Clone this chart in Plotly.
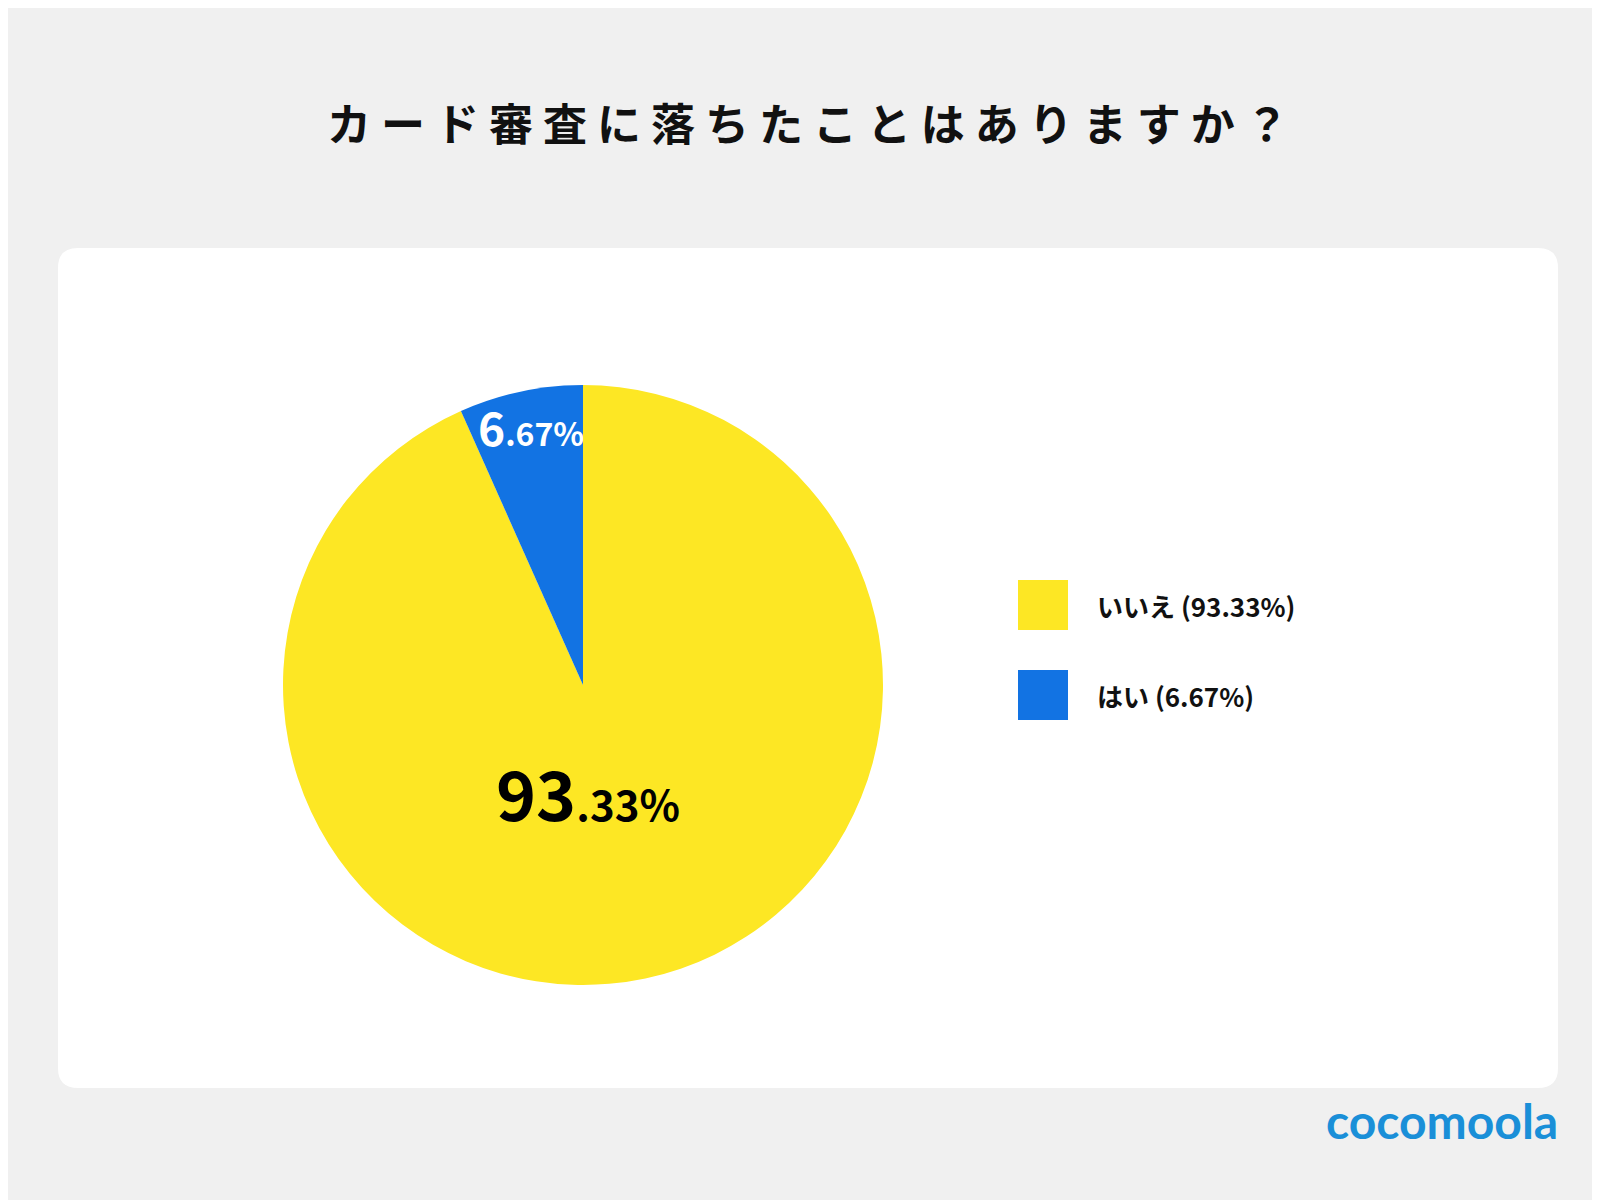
import plotly.graph_objects as go

labels = ["いいえ", "はい"]
values = [93.33, 6.67]
colors = ["#fde724", "#1273e3"]
big = ["93", "6"]
small = [".33%", ".67%"]

W, H = 1600, 1200
font = "Noto Sans CJK JP"

fig = go.Figure(go.Pie(
    labels=labels, values=values, sort=False, direction="clockwise",
    marker=dict(colors=colors, line=dict(width=0)), textinfo="none",
    hoverinfo="label+percent", showlegend=False,
    domain=dict(x=[275 / W, 875 / W], y=[1 - 977 / H, 1 - 377 / H]),
))


# white panel with rounded corners (pixel coords -> paper)
def px(x, y):
    return f"{x / W:.5f},{1 - y / H:.5f}"


x0, x1, y0, y1, r = 50, 1550, 240, 1080, 20
panel = (f"M {px(x0 + r, y0)} L {px(x1 - r, y0)} Q {px(x1, y0)} {px(x1, y0 + r)} "
         f"L {px(x1, y1 - r)} Q {px(x1, y1)} {px(x1 - r, y1)} "
         f"L {px(x0 + r, y1)} Q {px(x0, y1)} {px(x0, y1 - r)} "
         f"L {px(x0, y0 + r)} Q {px(x0, y0)} {px(x0 + r, y0)} Z")
shapes = [dict(type="path", xref="paper", yref="paper", layer="below", path=panel,
               fillcolor="white", line=dict(width=0))]

ann = []
# slice labels
pos = [(580, 783, "black", 68, 42), (468, 418, "white", 46, 32)]
for i, (x, y, c, fb, fs) in enumerate(pos):
    ann.append(dict(x=x / W, y=1 - y / H, xref="paper", yref="paper", showarrow=False,
                    text=f"<b>{big[i]}<span style='font-size:{fs}px'>{small[i]}</span></b>",
                    font=dict(family=font, size=fb, color=c)))
# legend
for i, (lab, v, c) in enumerate(zip(labels, values, colors)):
    y = 597 + i * 90
    shapes.append(dict(type="rect", xref="paper", yref="paper",
                       x0=1010 / W, x1=1060 / W, y0=1 - (y + 25) / H, y1=1 - (y - 25) / H,
                       fillcolor=c, line=dict(width=0)))
    ann.append(dict(x=1087 / W, y=1 - y / H, xref="paper", yref="paper", showarrow=False,
                    xanchor="left", text=f"<b>{lab} ({v:.2f}%)</b>",
                    font=dict(family=font, size=26, color="#111")))
ann.append(dict(x=800 / W, y=1 - 80 / H, xref="paper", yref="paper", showarrow=False,
                text="<b>カ ー ド 審 査 に 落 ち た こ と は あ り ま す か ？</b>",
                font=dict(family=font, size=44, color="#111")))
ann.append(dict(x=1552 / W, y=1 - 1143 / H, xref="paper", yref="paper", showarrow=False,
                xanchor="right", text="<b>cocomoola</b>",
                font=dict(family="Lato", size=48, color="#1a8fd8")))

fig.update_layout(width=W, height=H, margin=dict(l=0, r=0, t=0, b=0),
                  paper_bgcolor="#f0f0f0", shapes=shapes, annotations=ann)
fig.write_html("out.html")
